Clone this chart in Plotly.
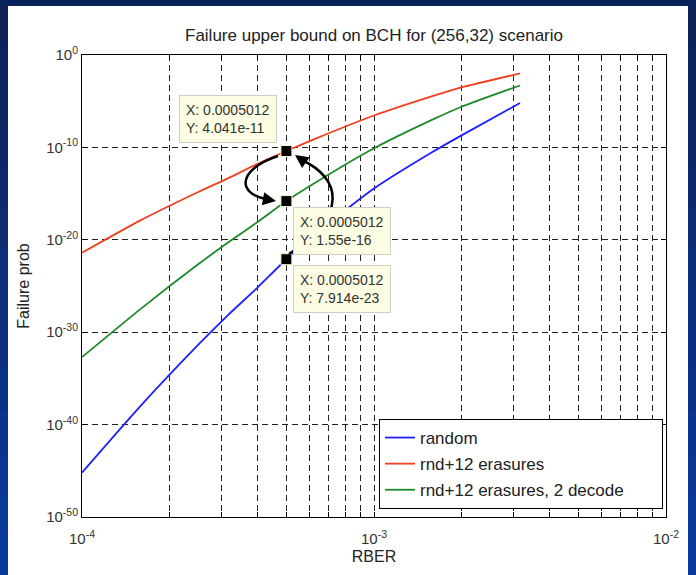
import numpy as np
import plotly.graph_objects as go

# ---------------- data ----------------
rber = [1.0e-4, 1.585e-4, 2.512e-4, 3.162e-4, 3.981e-4, 5.012e-4,
        6.310e-4, 1.0e-3, 1.585e-3, 1.995e-3, 3.162e-3]
fail_random = [6.31e-46, 1.0e-38, 5.01e-32, 7.08e-29, 6.31e-26, 7.914e-23,
               4.47e-20, 3.55e-15, 3.16e-11, 2.0e-9, 6.31e-6]
fail_erasures = [3.98e-22, 1.26e-18, 1.58e-15, 4.47e-14, 1.58e-12, 4.041e-11,
                 8.91e-10, 2.82e-7, 3.55e-5, 3.16e-4, 1.0e-2]
fail_erasures_2dec = [2.0e-33, 3.16e-28, 2.51e-23, 5.01e-21, 7.94e-19, 1.55e-16,
                      1.58e-14, 7.94e-11, 1.0e-7, 2.51e-6, 5.01e-4]

series_names = ["random", "rnd+12 erasures", "rnd+12 erasures, 2 decode"]
series_colors = ["#1f1fff", "#f0401e", "#1f8a2a"]

tip_x = 0.0005012
tip_y = [4.041e-11, 1.55e-16, 7.914e-23]
tip_labels = ["X: 0.0005012<br>Y: 4.041e-11",
              "X: 0.0005012<br>Y: 1.55e-16",
              "X: 0.0005012<br>Y: 7.914e-23"]

x_tickvals = [m * 10.0 ** e for e in (-4, -3) for m in range(1, 10)] + [1e-2]
x_ticktext = ["10<sup>-4</sup>"] + [""] * 8 + ["10<sup>-3</sup>"] + [""] * 8 + ["10<sup>-2</sup>"]
y_exps = [-50, -40, -30, -20, -10, 0]
y_tickvals = [10.0 ** e for e in y_exps]
y_ticktext = ["10<sup>%d</sup>" % e for e in y_exps]

title_text = "Failure upper bound on BCH for (256,32) scenario"
x_title = "RBER"
y_title = "Failure prob"

# ---------------- layout geometry ----------------
W, H = 696, 575
L, R, T, B = 82, 30, 55, 58
PW, PH = W - L - R, H - T - B
FONT = "Liberation Sans, Arial, Helvetica, sans-serif"
PAD = "\u00a0" * 7


def px(X):
    return (X - L) / PW


def py(Y):
    return (H - B - Y) / PH


fig = go.Figure()

for name, ys, col in zip(series_names,
                         [fail_random, fail_erasures, fail_erasures_2dec],
                         series_colors):
    fig.add_trace(go.Scatter(x=rber, y=ys, mode="lines", name=name + PAD,
                             legendgroup=name,
                             line=dict(color=col, width=1.8, shape="spline",
                                       smoothing=0.6)))

fig.add_trace(go.Scatter(x=[tip_x] * 3, y=tip_y, mode="markers", showlegend=False,
                         marker=dict(symbol="square", size=11, color="black",
                                     line=dict(color="#fff8d0", width=1))))

shapes = []
# dark blue frame around the white slide area
n = 14
for i in range(n):
    Y0 = H * i / n
    Y1 = H * (i + 1) / n + 1
    t = i / (n - 1)
    r = int(14 + (10 - 14) * t)
    g = int(34 + (58 - 34) * t)
    b = int(86 + (158 - 86) * t)
    col = "rgb(%d,%d,%d)" % (r, g, b)
    shapes.append(dict(type="rect", xref="paper", yref="paper", layer="above",
                       x0=px(0), x1=px(8), y0=py(Y1), y1=py(Y0),
                       fillcolor=col, line=dict(width=0)))
    shapes.append(dict(type="rect", xref="paper", yref="paper", layer="above",
                       x0=px(688), x1=px(W), y0=py(Y1), y1=py(Y0),
                       fillcolor=col, line=dict(width=0)))
shapes.append(dict(type="rect", xref="paper", yref="paper", layer="above",
                   x0=px(0), x1=px(W), y0=py(6), y1=py(0),
                   fillcolor="rgb(8,34,92)", line=dict(width=0)))


def pth(points, ctrl):
    (x0, y0), (x1, y1) = points
    (c1x, c1y), (c2x, c2y) = ctrl
    return "M %f,%f C %f,%f %f,%f %f,%f" % (px(x0), py(y0), px(c1x), py(c1y),
                                           px(c2x), py(c2y), px(x1), py(y1))


# curved data-tip arrows
shapes.append(dict(type="path", xref="paper", yref="paper", layer="above",
                   path=pth([(278, 156), (266, 199)], [(236, 170), (238, 194)]),
                   line=dict(color="black", width=2.5)))
shapes.append(dict(type="path", xref="paper", yref="paper", layer="above",
                   path=pth([(289, 254), (302, 160)], [(350, 214), (340, 178)]),
                   line=dict(color="black", width=2.5)))

annotations = []
# arrow heads
annotations.append(dict(xref="paper", yref="paper", x=px(276), y=py(201),
                        ax=-11, ay=-2, showarrow=True, arrowhead=2, arrowsize=1.2,
                        arrowwidth=2.2, arrowcolor="black", text=""))
annotations.append(dict(xref="paper", yref="paper", x=px(295), y=py(155),
                        ax=10, ay=7, showarrow=True, arrowhead=2, arrowsize=1.2,
                        arrowwidth=2.2, arrowcolor="black", text=""))

tip_cfg = [("right", "bottom", -9, 8), ("left", "top", 7, -6), ("left", "top", 7, -6)]
for yv, lab, (xa, ya, xs, ys) in zip(tip_y, tip_labels, tip_cfg):
    annotations.append(dict(x=np.log10(tip_x), y=np.log10(yv), xref="x", yref="y",
                            text=lab, showarrow=False, align="left",
                            xanchor=xa, yanchor=ya, xshift=xs, yshift=ys,
                            bgcolor="#fdfde4", bordercolor="#cfcfc4", borderwidth=1,
                            borderpad=6,
                            font=dict(family=FONT, size=14, color="#333333")))

axis_common = dict(showline=True, linecolor="black", linewidth=1, mirror="ticks",
                   ticks="inside", ticklen=5, tickcolor="black",
                   showgrid=True, gridcolor="#222222", gridwidth=1, griddash="6px,4px",
                   zeroline=False, tickangle=0,
                   tickfont=dict(family=FONT, size=15, color="#333333"))

fig.update_layout(
    width=W, height=H,
    margin=dict(l=L, r=R, t=T, b=B, autoexpand=False),
    paper_bgcolor="white", plot_bgcolor="white",
    title=dict(text=title_text, x=374 / W, xanchor="center",
               y=1 - 35 / H, yanchor="middle",
               font=dict(family=FONT, size=17, color="#222222")),
    xaxis=dict(type="log", range=[-4, -2], tickmode="array",
               tickvals=x_tickvals, ticktext=x_ticktext, ticklabelstandoff=8,
               title=dict(text=x_title, standoff=4,
                          font=dict(family=FONT, size=16, color="#222222")),
               **axis_common),
    yaxis=dict(type="log", range=[-50, 0], tickmode="array",
               tickvals=y_tickvals, ticktext=y_ticktext,
               title=dict(text=y_title, standoff=12,
                          font=dict(family=FONT, size=16, color="#222222")),
               **axis_common),
    legend=dict(x=px(663), y=py(509), xanchor="right", yanchor="bottom",
                bgcolor="white", bordercolor="black", borderwidth=1,
                tracegroupgap=1,
                font=dict(family=FONT, size=17, color="#222222")),
    shapes=shapes,
    annotations=annotations,
    showlegend=True,
)

fig.write_html("out.html", config={"displayModeBar": False},
               post_script="document.body.style.margin='0';document.body.style.padding='0';")
